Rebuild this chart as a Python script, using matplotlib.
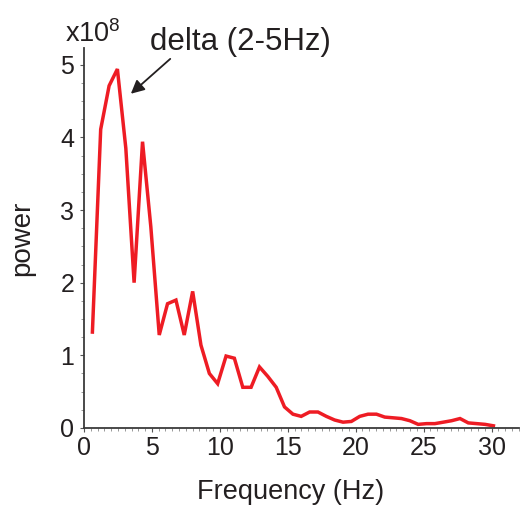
import matplotlib
matplotlib.use("Agg")
import matplotlib.pyplot as plt
from matplotlib.ticker import MultipleLocator

plt.rcParams['font.family'] = ['Liberation Sans', 'DejaVu Sans']
plt.rcParams['mathtext.fontset'] = 'custom'
plt.rcParams['mathtext.rm'] = 'Liberation Sans'
plt.rcParams['mathtext.it'] = 'Liberation Sans'

frequency_hz = [0.62, 1.23, 1.85, 2.46, 3.08, 3.69, 4.31, 4.92, 5.54, 6.15,
                6.77, 7.38, 8.00, 8.61, 9.23, 9.84, 10.46, 11.07, 11.69, 12.30,
                12.92, 13.53, 14.15, 14.76, 15.38, 15.99, 16.61, 17.22, 17.84, 18.45,
                19.07, 19.68, 20.30, 20.91, 21.53, 22.14, 22.76, 23.37, 23.99, 24.60,
                25.22, 25.83, 26.45, 27.06, 27.68, 28.29, 28.91, 29.52, 30.14]
power_e8 = [1.32, 4.11, 4.71, 4.94, 3.85, 2.00, 3.94, 2.77, 1.28, 1.71,
            1.76, 1.28, 1.88, 1.14, 0.75, 0.61, 0.99, 0.96, 0.56, 0.56,
            0.84, 0.71, 0.56, 0.29, 0.19, 0.16, 0.22, 0.22, 0.16, 0.11,
            0.08, 0.09, 0.16, 0.19, 0.19, 0.15, 0.14, 0.13, 0.10, 0.05,
            0.06, 0.06, 0.08, 0.10, 0.13, 0.07, 0.06, 0.05, 0.03]
x_ticks = [0, 5, 10, 15, 20, 25, 30]
y_ticks = [0, 1, 2, 3, 4, 5]

txt = '#231f20'
fig = plt.figure(figsize=(5.2, 5.05), dpi=100)
ax = fig.add_axes([0.1615, 0.1525, 0.836, 0.7525])
ax.plot(frequency_hz, power_e8, color='#ee1c24', lw=2.5, solid_joinstyle='miter')
ax.set_xlim(0, 32)
ax.set_ylim(0, 5.23)
ax.set_xticks(x_ticks)
ax.set_yticks(y_ticks)
ax.xaxis.set_minor_locator(MultipleLocator(0.5))
ax.yaxis.set_minor_locator(MultipleLocator(0.25))
for s in ['top', 'right']:
    ax.spines[s].set_visible(False)
for s in ['left', 'bottom']:
    ax.spines[s].set_color('#3a3a3a')
    ax.spines[s].set_linewidth(1.3)
ax.tick_params(which='major', direction='out', length=3, width=0.8, color='#555555',
               labelsize=18, labelcolor=txt)
ax.tick_params(axis='x', which='major', pad=2.5)
ax.tick_params(axis='y', which='major', pad=4)
ax.tick_params(which='minor', direction='out', length=2, width=0.6, color='#888888')
ax.set_xlabel('Frequency (Hz)', fontsize=19.5, color=txt)
ax.xaxis.set_label_coords(0.475, -0.133)
ax.set_ylabel('power', fontsize=20, color=txt, labelpad=18)
ax.text(-0.044, 1.016, r'x10$^{8}$', transform=ax.transAxes, fontsize=19.5,
        color=txt, ha='left', va='baseline')
ax.annotate('', xy=(3.45, 4.60), xytext=(6.35, 5.08),
            annotation_clip=False,
            arrowprops=dict(arrowstyle='-|>', color='#231f20', lw=1.3,
                            mutation_scale=20, shrinkA=0, shrinkB=0))
ax.text(4.85, 5.20, 'delta (2-5Hz)', fontsize=22.5, color=txt,
        ha='left', va='baseline', clip_on=False)
fig.savefig('out.png', dpi=100)
